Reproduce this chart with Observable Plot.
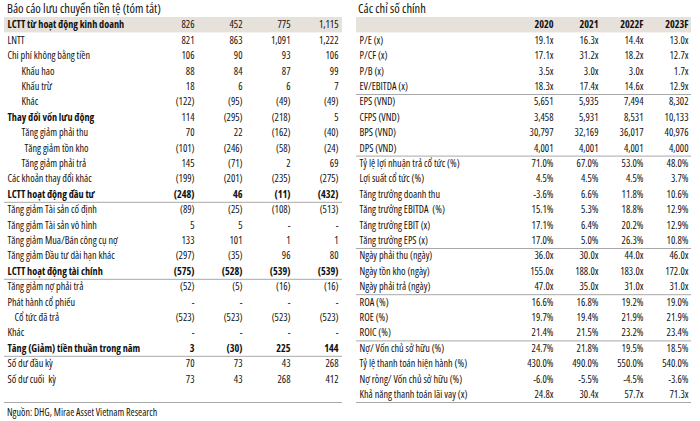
<!DOCTYPE html>
<html>
<head>
<meta charset="utf-8">
<script src="https://cdn.jsdelivr.net/npm/d3@7"></script>
<script src="https://cdn.jsdelivr.net/npm/@observablehq/plot@0.6"></script>
<style>
  html, body { margin:0; padding:0; background:#fff; }
  body { width:700px; height:421px; overflow:hidden; color:#111; font-family:"Open Sans",sans-serif; font-stretch:80%; }
  #wrap { display:flex; width:700px; }
  .panel { width:350px; flex:none; }
  .title { height:17px; line-height:18px; font-size:12.5px; white-space:nowrap; }
  .foot { height:18px; line-height:19px; font-size:10px; padding-left:7px; white-space:nowrap; }
</style>
</head>
<body>
<div id="wrap">
  <div class="panel" id="left"><div class="title" style="padding-left:7px">Báo cáo lưu chuyển tiền tệ (tóm tắt)</div></div>
  <div class="panel" id="right"><div class="title" style="padding-left:8px">Các chỉ số chính</div></div>
</div>
<script>
// ---------- Cash-flow table data ----------
const years = ["2020", "2021", "2022F", "2023F"];
const cfLabels = [
  "LCTT từ hoạt động kinh doanh", "LNTT", "Chi phí không bằng tiền", "Khấu hao", "Khấu trừ", "Khác",
  "Thay đổi vốn lưu động", "Tăng giảm phải thu", "Tăng giảm tồn kho", "Tăng giảm phải trả",
  "Các khoản thay đổi khác", "LCTT hoạt động đầu tư", "Tăng giảm Tài sản cố định", "Tăng giảm Tài sản vô hình",
  "Tăng giảm Mua/Bán công cụ nợ", "Tăng giảm Đầu tư dài hạn khác", "LCTT hoạt động tài chính",
  "Tăng giảm nợ phải trả", "Phát hành cổ phiếu", "Cổ tức đã trả", "Khác",
  "Tăng (Giảm) tiền thuần trong năm", "Số dư đầu kỳ", "Số dư cuối  kỳ"
];
const cf2020 = [826, 821, 106, 88, 18, -122, 114, 70, -101, 145, -199, -248, -89, 5, 133, -297, -575, -52, null, -523, null, 3, 70, 73];
const cf2021 = [452, 863, 90, 84, 6, -95, -295, 22, -246, -71, -201, 46, -25, 5, 101, -35, -528, -5, null, -523, null, -30, 73, 43];
const cf2022 = [775, 1091, 93, 87, 6, -49, -218, -162, -58, 2, -235, -11, -108, null, 1, 96, -539, -16, null, -523, null, 225, 43, 268];
const cf2023 = [1115, 1222, 106, 99, 7, -49, 5, -40, -24, 69, -275, -432, -513, null, 1, 80, -539, -16, null, -523, null, 144, 268, 412];
// style helpers (kept apart from the values)
const cfIndent = [0,0,0,2,2,2,0,2,3,2,0,0,0,0,0,0,0,0,0,1,0,0,0,0];
const cfBoldLabel = [0, 6, 11, 16, 21];
const cfBoldValues = [11, 16, 21];
const cfSeparators = [12, 17, 22, 25];

// ---------- Key ratios table data ----------
const krLabels = [
  "", "P/E (x)", "P/CF (x)", "P/B (x)", "EV/EBITDA (x)", "EPS (VND)", "CFPS (VND)", "BPS (VND)", "DPS (VND)",
  "Tỷ lệ lợi nhuận trả cổ tức (%)", "Lợi suất cổ tức (%)", "Tăng trưởng doanh thu", "Tăng trưởng EBITDA  (%)",
  "Tăng trưởng EBIT (x)", "Tăng trưởng EPS (x)", "Ngày phải thu (ngày)", "Ngày tồn kho (ngày)", "Ngày phải trả (ngày)",
  "ROA (%)", "ROE (%)", "ROIC (%)", "Nợ/ Vốn chủ sở hữu (%)", "Tỷ lệ thanh toán hiện hành (%)",
  "Nợ ròng/ Vốn chủ sở hữu (%)", "Khả năng thanh toán lãi vay (x)"
];
const krUnits = ["", "x","x","x","x", "n","n","n","n", "%","%","%","%","%","%", "x","x","x", "%","%","%", "%","%","%", "x"];
const kr2020 = [null, 19.1, 17.1, 3.5, 18.3, 5651, 3458, 30797, 4001, 71.0, 4.5, -3.6, 15.1, 17.1, 17.0, 36.0, 155.0, 47.0, 16.6, 19.7, 21.4, 24.7, 430.0, -6.0, 24.8];
const kr2021 = [null, 16.3, 31.2, 3.0, 17.4, 5935, 5931, 32169, 4001, 67.0, 4.5, 6.6, 5.3, 6.4, 5.0, 30.0, 188.0, 35.0, 16.8, 19.4, 21.5, 21.8, 490.0, -5.5, 30.4];
const kr2022 = [null, 14.4, 18.2, 3.0, 14.6, 7494, 8531, 36017, 4001, 53.0, 4.5, 11.8, 18.8, 20.2, 26.3, 44.0, 183.0, 31.0, 19.2, 21.9, 23.2, 19.5, 550.0, -4.5, 57.7];
const kr2023 = [null, 13.0, 12.7, 1.7, 12.9, 8302, 10133, 40976, 4000, 48.0, 3.7, 10.6, 12.9, 12.9, 10.8, 46.0, 172.0, 31.0, 19.0, 21.9, 23.4, 18.5, 540.0, -3.6, 71.3];
const krSeparators = [5, 9, 15, 18, 21, 25];

// ---------- helpers ----------
const INK = "#111";
const BAND = "#e6e1da";
const RULE = "#a8a8a8";
const comma = d3.format(",");
const fmtCF = v => v == null ? "-" : v < 0 ? `(${comma(-v)})` : comma(v);
const fmtKR = (v, u) => v == null ? "" : u === "n" ? comma(v) : d3.format(".1f")(v).replace("−", "-") + u;

function table({labels, columns, fmt, indent, boldLabel, boldValues, separators, headerLabels, marginLeft, marginRight, xRange}) {
  const nRows = 25;
  const rows = labels.map((label, i) => ({i, label, ind: indent ? indent[i] : 0, bold: boldLabel.includes(i)}));
  const cells = [];
  labels.forEach((_, i) => years.forEach((y, j) => cells.push({i, col: y, text: fmt(columns[j][i], i), bold: boldValues.includes(i)})));
  const marks = [
    Plot.rect([0], {y1: d => d, y2: d => d + 1, fill: BAND}),
    Plot.ruleY(separators, {y: d => d, stroke: RULE, strokeWidth: 1})
  ];
  const steps = [0, 7, 14, 17];
  for (const lvl of [0, 1, 2, 3]) {
    for (const b of [false, true]) {
      const sub = rows.filter(r => r.ind === lvl && r.bold === b && r.label);
      if (sub.length) marks.push(Plot.text(sub, {y: d => d.i + 0.5, text: "label", frameAnchor: "left", textAnchor: "start", dx: 3 + steps[lvl], fontWeight: b ? "bold" : "normal", fill: INK}));
    }
  }
  for (const b of [false, true]) {
    marks.push(Plot.text(cells.filter(c => c.bold === b), {x: "col", y: d => d.i + 0.5, text: "text", textAnchor: "end", fontWeight: b ? "bold" : "normal", fill: INK}));
  }
  if (headerLabels) marks.push(Plot.text(years, {x: d => d, y: () => 0.5, text: d => d, textAnchor: "end", fontWeight: "bold", fill: INK}));
  return Plot.plot({
    width: 350, height: 386, marginTop: 0, marginBottom: 1, marginLeft, marginRight,
    style: {fontFamily: '"Open Sans",sans-serif', fontStretch: "80%", fontSize: "10.2px", color: INK, background: "transparent"},
    x: {type: "point", domain: years, range: xRange, padding: 0, axis: null},
    y: {type: "linear", domain: [0, nRows], range: [0, 385], axis: null},
    marks
  });
}

const left = table({
  labels: cfLabels, columns: [cf2020, cf2021, cf2022, cf2023], fmt: v => fmtCF(v),
  indent: cfIndent, boldLabel: cfBoldLabel, boldValues: cfBoldValues, separators: cfSeparators,
  headerLabels: false, marginLeft: 4, marginRight: 8, xRange: [194, 338]
});
const right = table({
  labels: krLabels, columns: [kr2020, kr2021, kr2022, kr2023], fmt: (v, i) => fmtKR(v, krUnits[i]),
  indent: null, boldLabel: [], boldValues: [], separators: krSeparators,
  headerLabels: true, marginLeft: 6, marginRight: 9, xRange: [203, 338]
});
document.getElementById("left").appendChild(left);
const foot = document.createElement("div");
foot.className = "foot";
foot.textContent = "Nguồn: DHG, Mirae Asset Vietnam Research";
document.getElementById("left").appendChild(foot);
document.getElementById("right").appendChild(right);
</script>
</body>
</html>
